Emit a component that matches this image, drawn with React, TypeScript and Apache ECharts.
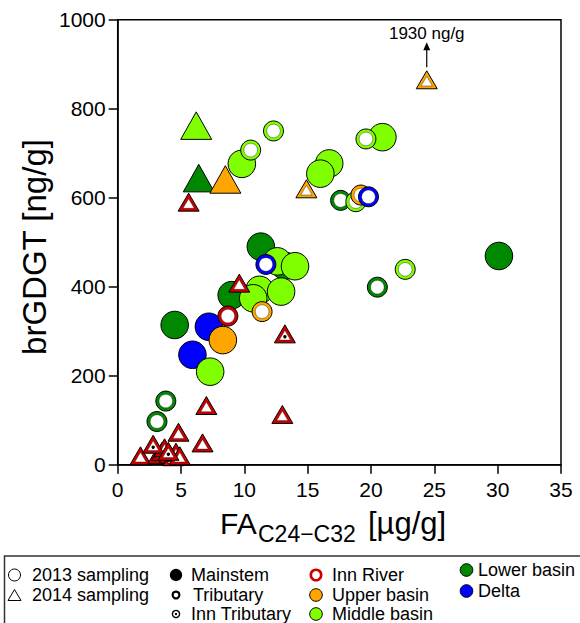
import React, { useEffect, useRef } from "react";
import * as echarts from "echarts";

const FONT = "'Liberation Sans', Arial, Helvetica, sans-serif";

// basin colours
const C_LOWER = "#008800";
const C_MIDDLE = "#7FFF00";
const C_UPPER = "#FFA500";
const C_DELTA = "#0000FF";
const C_INN = "#CD0000";

// axis ranges
const X_MIN = 0;
const X_MAX = 35;
const X_STEP = 5;
const Y_MIN = 0;
const Y_MAX = 1000;
const Y_STEP = 200;
// values above Y_MAX are drawn here, with an arrow and their true value
const OFF_SCALE_Y = 865;

// [FA C24-C32 (µg/g), brGDGT (ng/g)]
// Mainstem, 2013
const lowerMain2013 = [[11.3, 490], [13.2, 447], [9.0, 381], [4.5, 314], [30.1, 469]];
const deltaMain2013 = [[7.2, 310], [5.9, 247]];
const upperMain2013 = [[8.3, 280]];
const middleMain2013 = [
  [9.8, 676], [16.7, 677], [16.0, 654], [20.9, 736], [12.6, 457],
  [14.0, 446], [11.2, 393], [10.7, 374], [12.9, 389], [7.3, 209],
];
// Mainstem, 2014
const middleMain2014 = [[6.2, 762]];
const lowerMain2014 = [[6.4, 644]];
const upperMain2014 = [[8.5, 641]];
// Tributaries, 2013
const lowerTrib2013 = [[17.6, 594], [20.5, 399], [3.8, 143], [3.1, 97]];
const middleTrib2013 = [[12.3, 750], [10.5, 707], [19.6, 732], [18.8, 591], [22.7, 439]];
const upperTrib2013 = [[19.2, 606], [11.4, 344]];
const deltaTrib2013 = [[19.8, 602], [11.7, 450]];
const innRiver2013 = [[8.7, 334]];
// Tributaries, 2014
const upperTrib2014 = [[14.9, 620], [24.4, 1930]];
const innRiver2014 = [
  [5.6, 590], [9.6, 408], [7.0, 133], [13.0, 113], [4.8, 73], [6.7, 49],
  [1.8, 20], [3.2, 22], [3.5, 30], [3.7, 38], [4.1, 24], [4.4, 18], [4.6, 28], [4.9, 20],
];
const innTrib2014 = [[2.8, 46], [4.0, 30], [13.2, 294]];

type Kind = "bigCircle" | "bigTriangle" | "ring" | "hollowTriangle";
type Pt = { x: number; y: number; kind: Kind; color: string; dot?: boolean };

const groups: [number[][], Kind, string, boolean?][] = [
  [lowerMain2013, "bigCircle", C_LOWER],
  [deltaMain2013, "bigCircle", C_DELTA],
  [upperMain2013, "bigCircle", C_UPPER],
  [middleMain2013, "bigCircle", C_MIDDLE],
  [middleMain2014, "bigTriangle", C_MIDDLE],
  [lowerMain2014, "bigTriangle", C_LOWER],
  [upperMain2014, "bigTriangle", C_UPPER],
  [lowerTrib2013, "ring", C_LOWER],
  [middleTrib2013, "ring", C_MIDDLE],
  [upperTrib2013, "ring", C_UPPER],
  [deltaTrib2013, "ring", C_DELTA],
  [innRiver2013, "ring", C_INN],
  [upperTrib2014, "hollowTriangle", C_UPPER],
  [innRiver2014, "hollowTriangle", C_INN],
  [innTrib2014, "hollowTriangle", C_INN, true],
];

const points: Pt[] = [];
groups.forEach(([arr, kind, color, dot]) =>
  arr.forEach(([x, y]) => points.push({ x, y, kind, color, dot: !!dot }))
);

function triangle(cx: number, cy: number, w: number, h: number) {
  return [
    [cx, cy - h / 2],
    [cx - w / 2, cy + h / 2],
    [cx + w / 2, cy + h / 2],
  ];
}

function hollowTriangle(cx: number, cy: number, w: number, h: number, t: number, color: string, dot: boolean) {
  const outer = triangle(cx, cy, w, h);
  const rin = (w * h) / (w + 2 * Math.sqrt((w * w) / 4 + h * h));
  const ix = cx;
  const iy = cy + h / 2 - rin;
  const k = (rin - t) / rin;
  const inner = outer.map(([px, py]) => [ix + (px - ix) * k, iy + (py - iy) * k]);
  const els: any[] = [
    { type: "polygon", shape: { points: outer }, style: { fill: color, stroke: "#000", lineWidth: 1 } },
    { type: "polygon", shape: { points: inner }, style: { fill: "#fff", stroke: "rgba(0,0,0,0.6)", lineWidth: 0.6 } },
  ];
  if (dot) els.push({ type: "circle", shape: { cx: ix, cy: iy, r: 1.7 }, style: { fill: "#000" } });
  return els;
}

function renderPoint(params: any, api: any) {
  const p = points[params.dataIndex];
  const [cx, cy] = api.coord([api.value(0), api.value(1)]);
  let children: any[] = [];
  if (p.kind === "bigCircle") {
    children = [{ type: "circle", shape: { cx, cy, r: 13.8 }, style: { fill: p.color, stroke: "#000", lineWidth: 1 } }];
  } else if (p.kind === "bigTriangle") {
    children = [
      { type: "polygon", shape: { points: triangle(cx, cy, 31, 27.5) }, style: { fill: p.color, stroke: "#000", lineWidth: 1 } },
    ];
  } else if (p.kind === "ring") {
    children = [
      { type: "circle", shape: { cx, cy, r: 10 }, style: { fill: p.color, stroke: "#000", lineWidth: 1 } },
      { type: "circle", shape: { cx, cy, r: 6.8 }, style: { fill: "#fff", stroke: "rgba(0,0,0,0.6)", lineWidth: 0.6 } },
    ];
    if (p.dot) children.push({ type: "circle", shape: { cx, cy, r: 1.7 }, style: { fill: "#000" } });
  } else {
    children = hollowTriangle(cx, cy, 21, 18, 2.8, p.color, !!p.dot);
  }
  if (p.y > Y_MAX) {
    children.push(
      { type: "line", shape: { x1: cx, y1: cy - 12.5, x2: cx, y2: cy - 31 }, style: { stroke: "#000", lineWidth: 1.2 } },
      { type: "polygon", shape: { points: [[cx, cy - 37.5], [cx - 3.5, cy - 29.5], [cx + 3.5, cy - 29.5]] }, style: { fill: "#000" } },
      {
        type: "text",
        x: cx,
        y: cy - 46,
        style: { text: `${p.y} ng/g`, fontSize: 17, fontFamily: FONT, fill: "#000", align: "center", verticalAlign: "middle" },
      }
    );
  }
  return { type: "group", children };
}

function legendText(x: number, y: number, text: string) {
  return { type: "text", x, y, style: { text, fontSize: 18, fontFamily: FONT, fill: "#000", align: "left", verticalAlign: "middle" } };
}

function legendDisc(cx: number, cy: number, color: string) {
  return { type: "circle", shape: { cx, cy, r: 6.3 }, style: { fill: color, stroke: "#000", lineWidth: 1 } };
}

// legend rows
const ROW1 = 575;
const ROW2 = 595;
const ROW3 = 614;
const COL4_ROW1 = 570;
const COL4_ROW2 = 591;

const graphics: any[] = [
  // axis titles
  {
    type: "text",
    x: 34,
    y: 247,
    rotation: Math.PI / 2,
    style: { text: "brGDGT [ng/g]", fontSize: 33, fontFamily: FONT, fill: "#000", align: "center", verticalAlign: "middle" },
  },
  { type: "text", x: 220, y: 523, style: { text: "FA", fontSize: 30, fontFamily: FONT, fill: "#000", align: "left", verticalAlign: "middle" } },
  { type: "text", x: 258, y: 534, style: { text: "C24\u2212C32", fontSize: 23, fontFamily: FONT, fill: "#000", align: "left", verticalAlign: "middle" } },
  { type: "text", x: 368, y: 523, style: { text: "[\u00b5g/g]", fontSize: 31, fontFamily: FONT, fill: "#000", align: "left", verticalAlign: "middle" } },
  // legend frame
  { type: "rect", shape: { x: 4.5, y: 556, width: 620, height: 120 }, style: { fill: "none", stroke: "#333", lineWidth: 1.5 } },
  // sampling year
  { type: "circle", shape: { cx: 14.5, cy: ROW1, r: 6 }, style: { fill: "none", stroke: "#000", lineWidth: 1 } },
  legendText(32, ROW1, "2013 sampling"),
  { type: "polygon", shape: { points: triangle(14.5, ROW2, 13, 11) }, style: { fill: "none", stroke: "#000", lineWidth: 1 } },
  legendText(32, ROW2, "2014 sampling"),
  // site type
  { type: "circle", shape: { cx: 176, cy: ROW1, r: 6.2 }, style: { fill: "#000" } },
  legendText(191, ROW1, "Mainstem"),
  { type: "circle", shape: { cx: 176, cy: ROW2, r: 3.4 }, style: { fill: "#fff", stroke: "#000", lineWidth: 2.2 } },
  legendText(193, ROW2, "Tributary"),
  { type: "circle", shape: { cx: 176, cy: ROW3, r: 3.6 }, style: { fill: "#fff", stroke: "#000", lineWidth: 1.4 } },
  { type: "circle", shape: { cx: 176, cy: ROW3, r: 1.2 }, style: { fill: "#000" } },
  legendText(191, ROW3, "Inn Tributary"),
  // basins
  { type: "circle", shape: { cx: 316, cy: ROW1, r: 5.2 }, style: { fill: "#fff", stroke: C_INN, lineWidth: 2.6 } },
  legendText(332, ROW1, "Inn River"),
  legendDisc(316, ROW2, C_UPPER),
  legendText(332, ROW2, "Upper basin"),
  legendDisc(316, ROW3, C_MIDDLE),
  legendText(332, ROW3, "Middle basin"),
  legendDisc(466.5, COL4_ROW1, C_LOWER),
  legendText(478, COL4_ROW1, "Lower basin"),
  legendDisc(466.5, COL4_ROW2, C_DELTA),
  legendText(478, COL4_ROW2, "Delta"),
];

export default function App() {
  const ref = useRef<HTMLDivElement>(null);

  useEffect(() => {
    if (!ref.current) return;
    const chart = echarts.init(ref.current, null, { renderer: "svg" });
    const axisLine = { show: true, onZero: false, lineStyle: { color: "#000", width: 1.5 } };
    const axisTick = { show: true, inside: false, length: 9, lineStyle: { color: "#000", width: 1.5 } };
    const plain = (v: number) => String(v);
    chart.setOption({
      animation: false,
      backgroundColor: "#fff",
      grid: {
        left: 117.7,
        top: 19.7,
        width: 443.3,
        height: 445,
        show: true,
        borderColor: "#000",
        borderWidth: 1.5,
        backgroundColor: "transparent",
      },
      xAxis: {
        type: "value",
        min: X_MIN,
        max: X_MAX,
        interval: X_STEP,
        axisLine,
        axisTick,
        splitLine: { show: false },
        axisLabel: { color: "#000", fontSize: 21, fontFamily: FONT, margin: 14, formatter: plain },
      },
      yAxis: {
        type: "value",
        min: Y_MIN,
        max: Y_MAX,
        interval: Y_STEP,
        axisLine,
        axisTick,
        splitLine: { show: false },
        axisLabel: { color: "#000", fontSize: 21, fontFamily: FONT, margin: 12, formatter: plain },
      },
      series: [
        {
          type: "custom",
          coordinateSystem: "cartesian2d",
          clip: false,
          encode: { x: 0, y: 1 },
          data: points.map((p) => [p.x, p.y > Y_MAX ? OFF_SCALE_Y : p.y]),
          renderItem: renderPoint,
        },
      ],
      graphic: graphics,
    });
    return () => chart.dispose();
  }, []);

  return (
    <div
      ref={ref}
      style={{ position: "absolute", left: 0, top: 0, width: 580, height: 623, overflow: "hidden" }}
    />
  );
}
